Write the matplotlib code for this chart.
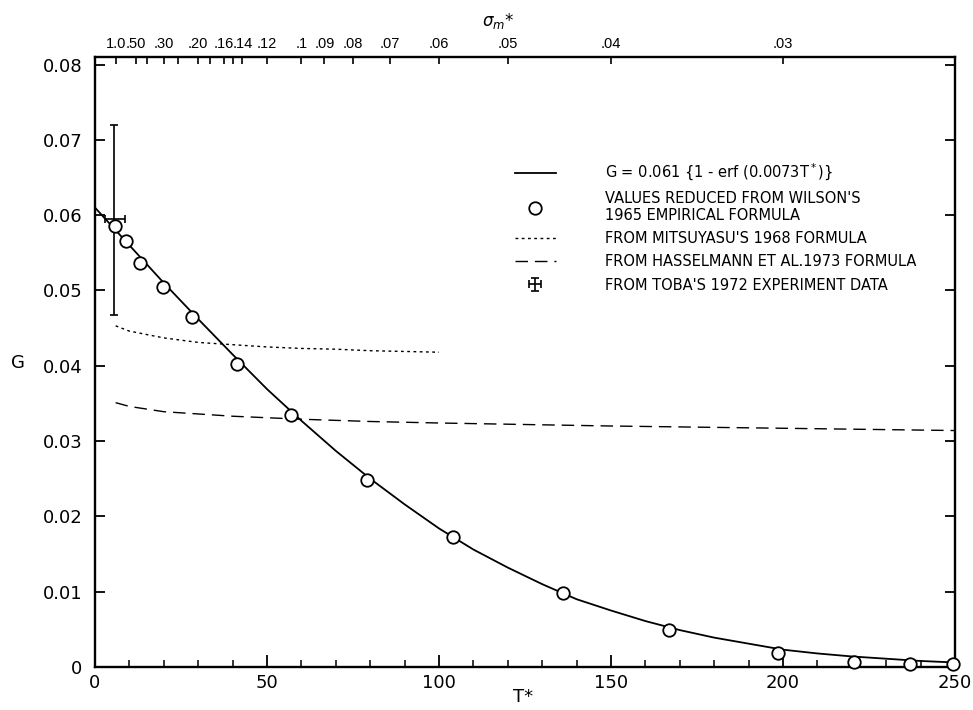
import numpy as np
import matplotlib
matplotlib.use("Agg")
import matplotlib.pyplot as plt
from matplotlib.ticker import FixedLocator, MultipleLocator
from matplotlib.legend_handler import HandlerErrorbar

# ----- data -----
# fitted curve G = 0.061 {1 - erf(0.0073 T*)}
curve_t = [0, 5, 10, 20, 30, 40, 50, 60, 70, 80, 90, 100, 110, 120, 130,
           140, 150, 160, 170, 180, 190, 200, 210, 220, 230, 240, 250]
curve_g = [0.0610, 0.0585, 0.0560, 0.0510, 0.0462, 0.0415, 0.0369, 0.0327,
           0.0287, 0.0250, 0.0216, 0.0184, 0.0156, 0.0132, 0.0110, 0.0090,
           0.0075, 0.0061, 0.0049, 0.0039, 0.0031, 0.0023, 0.0018, 0.0014,
           0.0011, 0.0008, 0.0006]

# values reduced from Wilson's 1965 empirical formula
wilson_t = [5.8, 9.0, 13.2, 19.8, 28.2, 41.3, 57.0, 79.0, 104.0, 136.0,
            167.0, 198.5, 220.5, 237.0, 249.5]
wilson_g = [0.0586, 0.0566, 0.0537, 0.0504, 0.0465, 0.0402, 0.0335, 0.0248,
            0.0173, 0.0098, 0.0049, 0.0018, 0.0006, 0.0004, 0.0004]

# Mitsuyasu 1968
mits_t = [6, 10, 20, 30, 40, 50, 60, 70, 80, 90, 100]
mits_g = [0.0453, 0.0446, 0.0437, 0.0431, 0.0428, 0.0425, 0.0423, 0.0422,
          0.0420, 0.0419, 0.0418]

# Hasselmann et al. 1973
hass_t = [6, 10, 20, 30, 40, 60, 80, 100, 150, 200, 250]
hass_g = [0.0351, 0.0346, 0.0339, 0.0336, 0.0333, 0.0329, 0.0326, 0.0324,
          0.0320, 0.0317, 0.0314]

# Toba 1972 experiment
toba_t = [5.6]
toba_g = [0.0595]
toba_xerr = [[2.7], [3.2]]
toba_yerr = [[0.0127], [0.0125]]

# axis ticks
y_ticks = [0, 0.01, 0.02, 0.03, 0.04, 0.05, 0.06, 0.07, 0.08]
y_labels = ["0", "0.01", "0.02", "0.03", "0.04", "0.05", "0.06", "0.07", "0.08"]
x_ticks = [0, 50, 100, 150, 200, 250]
sigma_ticks = [1.0, .50, .40, .30, .25, .20, .18, .16, .15, .14, .12, .10,
               .09, .08, .07, .06, .05, .04, .03]
sigma_labels = ["1.0", ".50", "", ".30", "", ".20", "", ".16", "", ".14", ".12",
                ".1", ".09", ".08", ".07", ".06", ".05", ".04", ".03"]

plt.rcParams["font.family"] = "DejaVu Sans"
narrow = ["DejaVu Sans Condensed", "Liberation Sans Narrow", "Liberation Sans"]

fig = plt.figure(figsize=(9.73, 7.10), dpi=100)
ax = fig.add_axes([95 / 973, 43 / 710, 860 / 973, 610 / 710])

ax.plot(curve_t, curve_g, color="k", lw=1.3,
        label="G = 0.061 {1 - erf (0.0073T$^*$)}")
ax.plot(wilson_t, wilson_g, "o", ms=9, mfc="white", mec="k", mew=1.3,
        clip_on=False, zorder=5,
        label="VALUES REDUCED FROM WILSON'S\n1965 EMPIRICAL FORMULA")
ax.plot(mits_t, mits_g, color="k", lw=1.0, ls=(0, (2, 2.5)),
        label="FROM MITSUYASU'S 1968 FORMULA")
ax.plot(hass_t, hass_g, color="k", lw=1.0, ls=(0, (9, 5)),
        label="FROM HASSELMANN ET AL.1973 FORMULA")
toba = ax.errorbar(toba_t, toba_g, xerr=toba_xerr, yerr=toba_yerr, fmt="none",
                   ecolor="k", elinewidth=1.2, capsize=3, capthick=1.2,
                   label="FROM TOBA'S 1972 EXPERIMENT DATA", zorder=4)

ax.set_xlim(0, 250)
ax.set_ylim(0, 0.081)
ax.xaxis.set_major_locator(FixedLocator(x_ticks))
ax.xaxis.set_minor_locator(MultipleLocator(10))
ax.yaxis.set_major_locator(FixedLocator(y_ticks))
ax.set_yticklabels(y_labels)
ax.tick_params(axis="both", which="major", direction="in", labelsize=13,
               width=1.3, right=True)
ax.tick_params(axis="y", which="major", length=7, pad=9)
ax.tick_params(axis="x", which="major", length=9, pad=5)
ax.tick_params(axis="x", which="minor", direction="in", length=5, width=1.1)
for sp in ax.spines.values():
    sp.set_linewidth(1.7)

ax.set_xlabel("T*", fontsize=13)
ax.xaxis.set_label_coords(0.498, -0.034)
ax.set_ylabel("G", fontsize=13, rotation=0, ha="center", va="center")
ax.yaxis.set_label_coords(-0.0895, 0.498)

# sigma_m* axis on top, T* = 6 / sigma_m*
ax_top = ax.twiny()
ax_top.set_xlim(ax.get_xlim())
ax_top.set_xticks([6.0 / s for s in sigma_ticks])
ax_top.set_xticklabels(sigma_labels, family=narrow)
ax_top.tick_params(axis="x", direction="in", length=5, width=1.2,
                   labelsize=10.5, pad=4)
ax_top.set_xlabel(r"$\sigma_m$*", fontsize=12)
ax_top.xaxis.set_label_coords(0.469, 1.05)
for sp in ax_top.spines.values():
    sp.set_visible(False)

handles, labels = ax.get_legend_handles_labels()
leg = ax.legend(handles, labels, loc="upper left",
                bbox_to_anchor=(0.488, 0.828), frameon=False,
                fontsize=10.5, borderpad=0, borderaxespad=0,
                handlelength=2.8, handletextpad=3.4, labelspacing=0.55,
                handler_map={type(toba): HandlerErrorbar(xerr_size=0.42)})

fig.savefig("out.png", dpi=100)
